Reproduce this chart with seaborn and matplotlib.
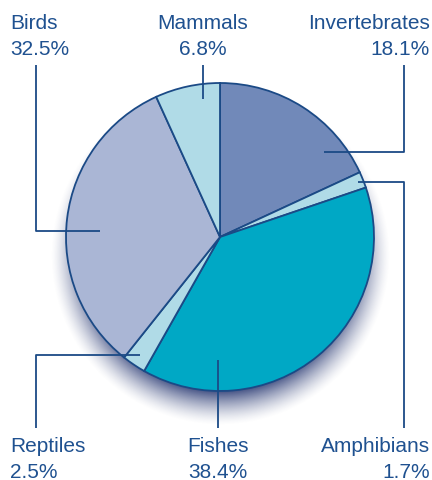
import numpy as np
import matplotlib
matplotlib.use("Agg")
import matplotlib.pyplot as plt
import seaborn as sns

categories = ["Invertebrates", "Amphibians", "Fishes", "Reptiles", "Birds", "Mammals"]
shares = [18.1, 1.7, 38.4, 2.5, 32.5, 6.8]
colors = ["#7189b9", "#b0dbe7", "#00a8c5", "#b0dbe7", "#aab6d5", "#b0dbe7"]

sns.set_theme(style="white")
plt.rcParams['font.family'] = ['Liberation Sans', 'DejaVu Sans']

W, H = 432, 481
fig = plt.figure(figsize=(W / 100, H / 100), dpi=100)
ax = fig.add_axes([0, 0, 1, 1])
ax.set_xlim(0, W)
ax.set_ylim(0, H)
ax.set_aspect('equal')
ax.axis('off')

navy = "#1b4a86"
txt = "#1f5190"

cx, cy, r = 220, H - 238, 154

# soft shadow below pie
yy, xx = np.mgrid[0:H, 0:W]
d = np.hypot(xx - cx, (H - yy) - (cy - 18))
t = np.clip((r + 16 - d) / 34, 0, 1)
alpha = (t ** 1.5) * 0.85
img = np.zeros((H, W, 4))
img[..., 0] = 0.16
img[..., 1] = 0.22
img[..., 2] = 0.45
img[..., 3] = alpha
ax.imshow(img, extent=(0, W, 0, H), origin='upper', zorder=1)

ax.pie(shares, colors=colors, startangle=90, counterclock=False,
       center=(cx, cy), radius=r, frame=True,
       wedgeprops=dict(edgecolor=navy, linewidth=1.3, zorder=2))
ax.set_xlim(0, W)
ax.set_ylim(0, H)
ax.axis('off')

def line(pts):
    xs = [p[0] for p in pts]
    ys = [H - p[1] for p in pts]
    ax.plot(xs, ys, color=navy, lw=1.3, zorder=5, solid_capstyle='butt')

line([(36, 66), (36, 232), (100, 232)])              # Birds
line([(203, 66), (203, 100)])                         # Mammals
line([(404, 66), (404, 153), (324, 153)])             # Invertebrates
line([(358, 183), (404, 183), (404, 429)])            # Amphibians
line([(218, 361), (218, 429)])                        # Fishes
line([(140, 356), (36, 356), (36, 429)])              # Reptiles

labels = {
    "Birds": (10, 'left', 29),
    "Mammals": (203, 'center', 29),
    "Invertebrates": (430, 'right', 29),
    "Reptiles": (10, 'left', 452),
    "Fishes": (218, 'center', 452),
    "Amphibians": (430, 'right', 452),
}
for cat, val in zip(categories, shares):
    x, ha, y = labels[cat]
    ax.text(x, H - y, cat, ha=ha, va='baseline', fontsize=15, color=txt)
    ax.text(x, H - y - 26, f"{val}%", ha=ha, va='baseline', fontsize=15, color=txt)

fig.savefig("out.png", dpi=100)
